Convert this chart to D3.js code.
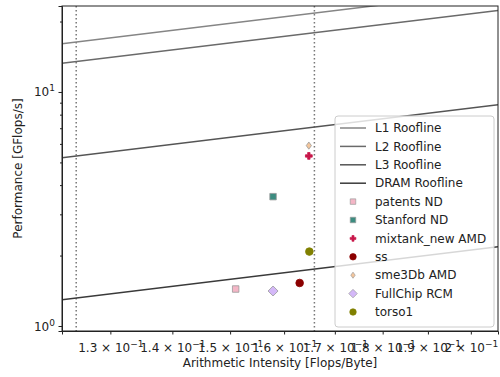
<!DOCTYPE html>
<html>
<head>
<meta charset="UTF-8">
<title>Roofline</title>
<script src="https://cdn.jsdelivr.net/npm/d3@7"></script>
<style>
body { margin: 0; background: #fff; }
text { font-family: "DejaVu Sans", sans-serif; fill: #222; }
</style>
</head>
<body>
<script>
// rooflines: bandwidth in GB/s (y = bw * x)
var roofNames = ["L1 Roofline", "L2 Roofline", "L3 Roofline", "DRAM Roofline"];
var roofBW = [131, 108, 42.7, 10.55];
var roofColors = ["#858585", "#6a6a6a", "#555555", "#3a3a3a"];

// measured kernels
var ptNames = ["patents ND", "Stanford ND", "mixtank_new AMD", "ss", "sme3Db AMD", "FullChip RCM", "torso1"];
var ptX = [0.1510, 0.1579, 0.1648, 0.1630, 0.1648, 0.1579, 0.1649];
var ptY = [1.439, 3.57, 5.33, 1.527, 5.90, 1.411, 2.08];
var ptColors = ["#f4b6c6", "#3c8c80", "#c8174a", "#8b0000", "#f4c69c", "#d4b8f8", "#808000"];
var ptShapes = ["square", "square", "plus", "circle", "thin_diamond", "diamond", "circle"];

// vertical dotted guides
var vLines = [0.1248, 0.1659];

var xTicks = [0.13, 0.14, 0.15, 0.16, 0.17, 0.18, 0.19, 0.2];
var yTicks = [1, 10];
var yMinor = [2, 3, 4, 5, 6, 7, 8, 9, 20];

var W = 500, H = 377;
var m = {left: 62, right: 2, top: 6, bottom: 46};

var svg = d3.select("body").append("svg")
  .attr("width", W).attr("height", H);

var x = d3.scaleLog().domain([0.1227, 0.2066]).range([m.left, W - m.right]);
var y = d3.scaleLog().domain([0.952, 23.3]).range([H - m.bottom, m.top]);

svg.append("defs").append("clipPath").attr("id", "clip")
  .append("rect").attr("x", m.left).attr("y", m.top)
  .attr("width", W - m.left - m.right).attr("height", H - m.top - m.bottom);

var plot = svg.append("g").attr("clip-path", "url(#clip)");

// dotted verticals
plot.selectAll(".vl").data(vLines).enter().append("line")
  .attr("x1", d => x(d)).attr("x2", d => x(d))
  .attr("y1", m.top).attr("y2", H - m.bottom)
  .attr("stroke", "#777").attr("stroke-width", 1.5)
  .attr("stroke-dasharray", "1.5,2.5");

// rooflines
var xd = x.domain();
plot.selectAll(".roof").data(roofBW).enter().append("line")
  .attr("x1", x(xd[0])).attr("x2", x(xd[1]))
  .attr("y1", d => y(d * xd[0])).attr("y2", d => y(d * xd[1]))
  .attr("stroke", (d, i) => roofColors[i]).attr("stroke-width", 1.5);

function symbolPath(shape) {
  if (shape == "square") return d3.symbol(d3.symbolSquare, 42)();
  if (shape == "circle") return d3.symbol(d3.symbolCircle, 46)();
  if (shape == "plus") return "M-1.2,-3.4H1.2V-1.2H3.4V1.2H1.2V3.4H-1.2V1.2H-3.4V-1.2H-1.2Z";
  if (shape == "thin_diamond") return "M0,-3.6L2.6,0L0,3.6L-2.6,0Z";
  if (shape == "diamond") return "M0,-5L5,0L0,5L-5,0Z";
}
function edgeColor(i) {
  var s = ptShapes[i];
  if (s == "plus" || s == "circle") return ptColors[i];
  return "#999";
}

plot.selectAll(".pt").data(ptX).enter().append("path")
  .attr("transform", (d, i) => "translate(" + x(d) + "," + y(ptY[i]) + ")")
  .attr("d", (d, i) => symbolPath(ptShapes[i]))
  .attr("fill", (d, i) => ptColors[i])
  .attr("stroke", (d, i) => edgeColor(i))
  .attr("stroke-width", 0.8);

// axes
var xAxis = d3.axisBottom(x).tickValues(xTicks).tickSize(3.5).tickFormat("");
var gx = svg.append("g").attr("transform", "translate(0," + (H - m.bottom) + ")").call(xAxis);
var xt = gx.selectAll(".tick").append("text")
  .attr("y", 21).attr("text-anchor", "middle").attr("font-size", 12);
xt.append("tspan").text(d => (d * 10).toFixed(d == 0.2 ? 0 : 1) + " \u00d7 10");
xt.append("tspan").attr("dy", -5).attr("font-size", 9).text("\u22121");

var yAxis = d3.axisLeft(y).tickValues(yTicks).tickSize(3.5).tickFormat("");
var gy = svg.append("g").attr("transform", "translate(" + m.left + ",0)").call(yAxis);
var yt = gy.selectAll(".tick").append("text")
  .attr("x", -7).attr("y", 4).attr("text-anchor", "end").attr("font-size", 12);
yt.append("tspan").text("10");
yt.append("tspan").attr("dy", -5).attr("font-size", 9).text(d => d == 10 ? "1" : "0");
svg.append("g").attr("transform", "translate(" + m.left + ",0)")
  .call(d3.axisLeft(y).tickValues(yMinor).tickSize(2).tickFormat(""))
  .select(".domain").remove();

svg.selectAll(".domain").attr("stroke", "#222");
svg.selectAll(".tick line").attr("stroke", "#222");

svg.append("rect").attr("x", m.left).attr("y", m.top)
  .attr("width", W - m.left - m.right).attr("height", H - m.top - m.bottom)
  .attr("fill", "none").attr("stroke", "#222").attr("stroke-width", 1);

svg.append("text").attr("x", (m.left + W - m.right) / 2).attr("y", 367)
  .attr("text-anchor", "middle").attr("font-size", 12)
  .text("Arithmetic Intensity [Flops/Byte]");
svg.append("text")
  .attr("transform", "translate(22," + ((m.top + H - m.bottom) / 2) + ") rotate(-90)")
  .attr("text-anchor", "middle").attr("font-size", 12)
  .text("Performance [GFlops/s]");

// legend
var lg = svg.append("g").attr("transform", "translate(335,116)");
lg.append("rect").attr("width", 159).attr("height", 211).attr("rx", 3)
  .attr("fill", "#fff").attr("fill-opacity", 0.8).attr("stroke", "#ccc");
var rowH = 18.4;
roofNames.forEach(function(n, i) {
  var ry = 12 + i * rowH;
  lg.append("line").attr("x1", 5).attr("x2", 31).attr("y1", ry).attr("y2", ry)
    .attr("stroke", roofColors[i]).attr("stroke-width", 1.5);
  lg.append("text").attr("x", 40).attr("y", ry).attr("dy", "0.35em")
    .attr("font-size", 12).text(n);
});
ptNames.forEach(function(n, i) {
  var ry = 12 + (i + 4) * rowH;
  lg.append("path").attr("transform", "translate(18," + ry + ") scale(0.85)")
    .attr("d", symbolPath(ptShapes[i]))
    .attr("fill", ptColors[i]).attr("stroke", edgeColor(i)).attr("stroke-width", 0.8);
  lg.append("text").attr("x", 40).attr("y", ry).attr("dy", "0.35em")
    .attr("font-size", 12).text(n);
});
</script>
</body>
</html>
